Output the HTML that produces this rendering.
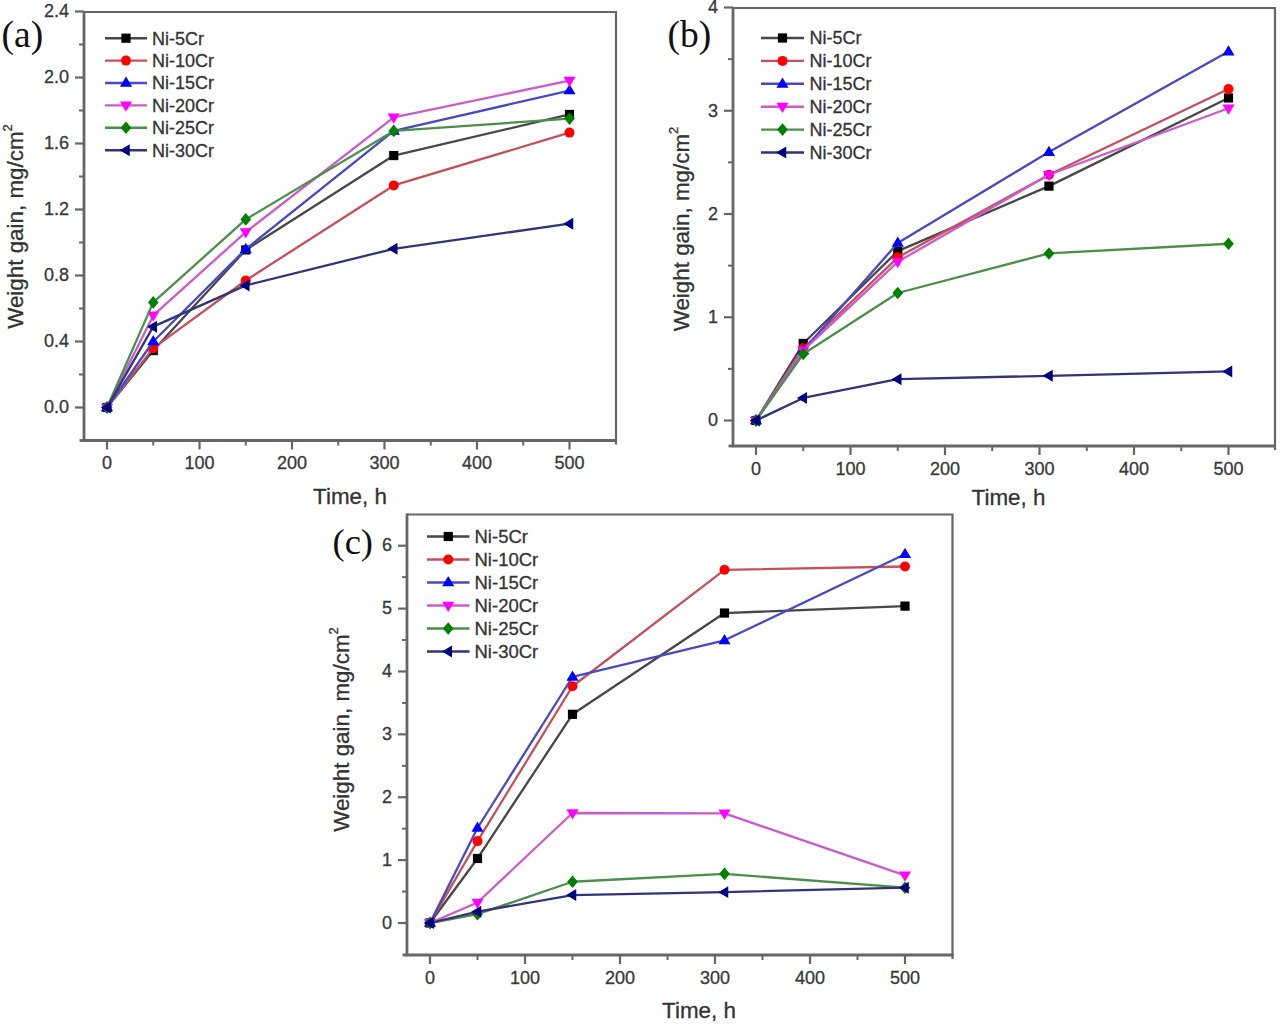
<!DOCTYPE html>
<html><head><meta charset="utf-8"><style>
html,body{margin:0;padding:0;background:#fff;}
body{width:1280px;height:1024px;overflow:hidden;}
svg{display:block;font-family:"Liberation Sans", sans-serif;} text{stroke:#333;stroke-width:0.3px;} text.lb{stroke:none}
</style></head><body>
<svg width="1280" height="1024" viewBox="0 0 1280 1024">
<rect width="1280" height="1024" fill="#fff"/>
<path d="M107.00,407.50 L153.25,350.57 L245.75,249.93 L393.75,155.55 L569.50,114.46" fill="none" stroke="#474747" stroke-width="2.3" stroke-linejoin="round"/>
<rect x="102.40" y="402.90" width="9.20" height="9.20" fill="#000000"/>
<rect x="148.65" y="345.97" width="9.20" height="9.20" fill="#000000"/>
<rect x="241.15" y="245.33" width="9.20" height="9.20" fill="#000000"/>
<rect x="389.15" y="150.95" width="9.20" height="9.20" fill="#000000"/>
<rect x="564.90" y="109.86" width="9.20" height="9.20" fill="#000000"/>
<path d="M107.00,407.50 L153.25,348.10 L245.75,280.45 L393.75,185.41 L569.50,132.61" fill="none" stroke="#c4505a" stroke-width="2.3" stroke-linejoin="round"/>
<circle cx="107.00" cy="407.50" r="5.00" fill="#ff0000"/>
<circle cx="153.25" cy="348.10" r="5.00" fill="#ff0000"/>
<circle cx="245.75" cy="280.45" r="5.00" fill="#ff0000"/>
<circle cx="393.75" cy="185.41" r="5.00" fill="#ff0000"/>
<circle cx="569.50" cy="132.61" r="5.00" fill="#ff0000"/>
<path d="M107.00,407.50 L153.25,341.50 L245.75,249.10 L393.75,130.96 L569.50,90.53" fill="none" stroke="#4848c4" stroke-width="2.3" stroke-linejoin="round"/>
<path d="M107.00,401.10 L113.08,411.34 L100.92,411.34Z" fill="#0000ff"/>
<path d="M153.25,335.10 L159.33,345.34 L147.17,345.34Z" fill="#0000ff"/>
<path d="M245.75,242.70 L251.83,252.94 L239.67,252.94Z" fill="#0000ff"/>
<path d="M393.75,124.56 L399.83,134.80 L387.67,134.80Z" fill="#0000ff"/>
<path d="M569.50,84.13 L575.58,94.37 L563.42,94.37Z" fill="#0000ff"/>
<path d="M107.00,407.50 L153.25,315.43 L245.75,232.11 L393.75,117.43 L569.50,80.63" fill="none" stroke="#cc5acc" stroke-width="2.3" stroke-linejoin="round"/>
<path d="M107.00,413.90 L113.08,403.66 L100.92,403.66Z" fill="#ff00ff"/>
<path d="M153.25,321.83 L159.33,311.59 L147.17,311.59Z" fill="#ff00ff"/>
<path d="M245.75,238.51 L251.83,228.27 L239.67,228.27Z" fill="#ff00ff"/>
<path d="M393.75,123.83 L399.83,113.59 L387.67,113.59Z" fill="#ff00ff"/>
<path d="M569.50,87.03 L575.58,76.79 L563.42,76.79Z" fill="#ff00ff"/>
<path d="M107.00,407.50 L153.25,302.39 L245.75,219.40 L393.75,130.96 L569.50,118.59" fill="none" stroke="#4a8f4a" stroke-width="2.3" stroke-linejoin="round"/>
<path d="M107.00,401.20 L112.36,407.50 L107.00,413.80 L101.64,407.50Z" fill="#008000"/>
<path d="M153.25,296.09 L158.60,302.39 L153.25,308.69 L147.90,302.39Z" fill="#008000"/>
<path d="M245.75,213.10 L251.10,219.40 L245.75,225.70 L240.40,219.40Z" fill="#008000"/>
<path d="M393.75,124.66 L399.11,130.96 L393.75,137.26 L388.39,130.96Z" fill="#008000"/>
<path d="M569.50,112.29 L574.86,118.59 L569.50,124.89 L564.14,118.59Z" fill="#008000"/>
<path d="M107.00,407.50 L153.25,326.65 L245.75,285.40 L393.75,248.77 L569.50,223.69" fill="none" stroke="#33337a" stroke-width="2.3" stroke-linejoin="round"/>
<path d="M100.70,407.50 L110.78,401.51 L110.78,413.49Z" fill="#000080"/>
<path d="M146.95,326.65 L157.03,320.66 L157.03,332.63Z" fill="#000080"/>
<path d="M239.45,285.40 L249.53,279.41 L249.53,291.38Z" fill="#000080"/>
<path d="M387.45,248.77 L397.53,242.79 L397.53,254.75Z" fill="#000080"/>
<path d="M563.20,223.69 L573.28,217.70 L573.28,229.67Z" fill="#000080"/>
<path d="M84,12 L616,12 L616,444.5" fill="none" stroke="#666666" stroke-width="2.2"/>
<path d="M84,11 L84,440.5 L617,440.5" fill="none" stroke="#666666" stroke-width="2.8"/><line x1="79.5" y1="440.5" x2="84" y2="440.5" stroke="#666666" stroke-width="2.8"/>
<line x1="75" y1="407.50" x2="84" y2="407.50" stroke="#666666" stroke-width="2.2"/>
<text x="69" y="413.25" text-anchor="end" font-size="18" fill="#3a3a3a">0.0</text>
<line x1="75" y1="341.50" x2="84" y2="341.50" stroke="#666666" stroke-width="2.2"/>
<text x="69" y="347.25" text-anchor="end" font-size="18" fill="#3a3a3a">0.4</text>
<line x1="75" y1="275.50" x2="84" y2="275.50" stroke="#666666" stroke-width="2.2"/>
<text x="69" y="281.25" text-anchor="end" font-size="18" fill="#3a3a3a">0.8</text>
<line x1="75" y1="209.50" x2="84" y2="209.50" stroke="#666666" stroke-width="2.2"/>
<text x="69" y="215.25" text-anchor="end" font-size="18" fill="#3a3a3a">1.2</text>
<line x1="75" y1="143.50" x2="84" y2="143.50" stroke="#666666" stroke-width="2.2"/>
<text x="69" y="149.25" text-anchor="end" font-size="18" fill="#3a3a3a">1.6</text>
<line x1="75" y1="77.50" x2="84" y2="77.50" stroke="#666666" stroke-width="2.2"/>
<text x="69" y="83.25" text-anchor="end" font-size="18" fill="#3a3a3a">2.0</text>
<line x1="75" y1="11.50" x2="84" y2="11.50" stroke="#666666" stroke-width="2.2"/>
<text x="69" y="17.25" text-anchor="end" font-size="18" fill="#3a3a3a">2.4</text>
<line x1="79" y1="374.50" x2="84" y2="374.50" stroke="#666666" stroke-width="2"/>
<line x1="79" y1="308.50" x2="84" y2="308.50" stroke="#666666" stroke-width="2"/>
<line x1="79" y1="242.50" x2="84" y2="242.50" stroke="#666666" stroke-width="2"/>
<line x1="79" y1="176.50" x2="84" y2="176.50" stroke="#666666" stroke-width="2"/>
<line x1="79" y1="110.50" x2="84" y2="110.50" stroke="#666666" stroke-width="2"/>
<line x1="79" y1="44.50" x2="84" y2="44.50" stroke="#666666" stroke-width="2"/>
<line x1="107.00" y1="440.5" x2="107.00" y2="449.5" stroke="#666666" stroke-width="2.2"/>
<text x="107.00" y="469.00" text-anchor="middle" font-size="18" fill="#3a3a3a">0</text>
<line x1="199.50" y1="440.5" x2="199.50" y2="449.5" stroke="#666666" stroke-width="2.2"/>
<text x="199.50" y="469.00" text-anchor="middle" font-size="18" fill="#3a3a3a">100</text>
<line x1="292.00" y1="440.5" x2="292.00" y2="449.5" stroke="#666666" stroke-width="2.2"/>
<text x="292.00" y="469.00" text-anchor="middle" font-size="18" fill="#3a3a3a">200</text>
<line x1="384.50" y1="440.5" x2="384.50" y2="449.5" stroke="#666666" stroke-width="2.2"/>
<text x="384.50" y="469.00" text-anchor="middle" font-size="18" fill="#3a3a3a">300</text>
<line x1="477.00" y1="440.5" x2="477.00" y2="449.5" stroke="#666666" stroke-width="2.2"/>
<text x="477.00" y="469.00" text-anchor="middle" font-size="18" fill="#3a3a3a">400</text>
<line x1="569.50" y1="440.5" x2="569.50" y2="449.5" stroke="#666666" stroke-width="2.2"/>
<text x="569.50" y="469.00" text-anchor="middle" font-size="18" fill="#3a3a3a">500</text>
<line x1="153.25" y1="440.5" x2="153.25" y2="445.5" stroke="#666666" stroke-width="2"/>
<line x1="245.75" y1="440.5" x2="245.75" y2="445.5" stroke="#666666" stroke-width="2"/>
<line x1="338.25" y1="440.5" x2="338.25" y2="445.5" stroke="#666666" stroke-width="2"/>
<line x1="430.75" y1="440.5" x2="430.75" y2="445.5" stroke="#666666" stroke-width="2"/>
<line x1="523.25" y1="440.5" x2="523.25" y2="445.5" stroke="#666666" stroke-width="2"/>
<text x="350" y="503.5" text-anchor="middle" font-size="22.4" fill="#333">Time, h</text>
<text transform="translate(22.7,226.5) rotate(-90)" text-anchor="middle" font-size="22.4" fill="#333">Weight gain, mg/cm<tspan dy="-11" font-size="13">2</tspan></text>
<line x1="105" y1="38.20" x2="147" y2="38.20" stroke="#474747" stroke-width="2.4"/>
<rect x="121.40" y="33.60" width="9.20" height="9.20" fill="#000000"/>
<text x="152" y="44.50" font-size="18" fill="#333">Ni-5Cr</text>
<line x1="105" y1="60.60" x2="147" y2="60.60" stroke="#c4505a" stroke-width="2.4"/>
<circle cx="126.00" cy="60.60" r="5.00" fill="#ff0000"/>
<text x="152" y="66.90" font-size="18" fill="#333">Ni-10Cr</text>
<line x1="105" y1="83.00" x2="147" y2="83.00" stroke="#4848c4" stroke-width="2.4"/>
<path d="M126.00,76.60 L132.08,86.84 L119.92,86.84Z" fill="#0000ff"/>
<text x="152" y="89.30" font-size="18" fill="#333">Ni-15Cr</text>
<line x1="105" y1="105.40" x2="147" y2="105.40" stroke="#cc5acc" stroke-width="2.4"/>
<path d="M126.00,111.80 L132.08,101.56 L119.92,101.56Z" fill="#ff00ff"/>
<text x="152" y="111.70" font-size="18" fill="#333">Ni-20Cr</text>
<line x1="105" y1="127.80" x2="147" y2="127.80" stroke="#4a8f4a" stroke-width="2.4"/>
<path d="M126.00,121.50 L131.35,127.80 L126.00,134.10 L120.64,127.80Z" fill="#008000"/>
<text x="152" y="134.10" font-size="18" fill="#333">Ni-25Cr</text>
<line x1="105" y1="150.20" x2="147" y2="150.20" stroke="#33337a" stroke-width="2.4"/>
<path d="M119.70,150.20 L129.78,144.21 L129.78,156.19Z" fill="#000080"/>
<text x="152" y="156.50" font-size="18" fill="#333">Ni-30Cr</text>
<text class="lb" x="1.5" y="46.5" font-family="&quot;Liberation Serif&quot;, serif" font-size="37.5" fill="#111">(a)</text>
<path d="M756.00,420.50 L803.25,343.48 L897.75,251.17 L1048.95,186.12 L1228.50,97.95" fill="none" stroke="#474747" stroke-width="2.3" stroke-linejoin="round"/>
<rect x="751.40" y="415.90" width="9.20" height="9.20" fill="#000000"/>
<rect x="798.65" y="338.88" width="9.20" height="9.20" fill="#000000"/>
<rect x="893.15" y="246.57" width="9.20" height="9.20" fill="#000000"/>
<rect x="1044.35" y="181.52" width="9.20" height="9.20" fill="#000000"/>
<rect x="1223.90" y="93.35" width="9.20" height="9.20" fill="#000000"/>
<path d="M756.00,420.50 L803.25,348.23 L897.75,257.37 L1048.95,174.77 L1228.50,89.07" fill="none" stroke="#c4505a" stroke-width="2.3" stroke-linejoin="round"/>
<circle cx="756.00" cy="420.50" r="5.00" fill="#ff0000"/>
<circle cx="803.25" cy="348.23" r="5.00" fill="#ff0000"/>
<circle cx="897.75" cy="257.37" r="5.00" fill="#ff0000"/>
<circle cx="1048.95" cy="174.77" r="5.00" fill="#ff0000"/>
<circle cx="1228.50" cy="89.07" r="5.00" fill="#ff0000"/>
<path d="M756.00,420.50 L803.25,350.29 L897.75,243.01 L1048.95,152.05 L1228.50,51.59" fill="none" stroke="#4848c4" stroke-width="2.3" stroke-linejoin="round"/>
<path d="M756.00,414.10 L762.08,424.34 L749.92,424.34Z" fill="#0000ff"/>
<path d="M803.25,343.89 L809.33,354.13 L797.17,354.13Z" fill="#0000ff"/>
<path d="M897.75,236.61 L903.83,246.85 L891.67,246.85Z" fill="#0000ff"/>
<path d="M1048.95,145.65 L1055.03,155.89 L1042.87,155.89Z" fill="#0000ff"/>
<path d="M1228.50,45.19 L1234.58,55.43 L1222.42,55.43Z" fill="#0000ff"/>
<path d="M756.00,420.50 L803.25,350.29 L897.75,261.80 L1048.95,174.77 L1228.50,108.27" fill="none" stroke="#cc5acc" stroke-width="2.3" stroke-linejoin="round"/>
<path d="M756.00,426.90 L762.08,416.66 L749.92,416.66Z" fill="#ff00ff"/>
<path d="M803.25,356.69 L809.33,346.45 L797.17,346.45Z" fill="#ff00ff"/>
<path d="M897.75,268.20 L903.83,257.96 L891.67,257.96Z" fill="#ff00ff"/>
<path d="M1048.95,181.17 L1055.03,170.93 L1042.87,170.93Z" fill="#ff00ff"/>
<path d="M1228.50,114.67 L1234.58,104.43 L1222.42,104.43Z" fill="#ff00ff"/>
<path d="M756.00,420.50 L803.25,354.01 L897.75,292.99 L1048.95,253.44 L1228.50,243.74" fill="none" stroke="#4a8f4a" stroke-width="2.3" stroke-linejoin="round"/>
<path d="M756.00,414.20 L761.36,420.50 L756.00,426.80 L750.64,420.50Z" fill="#008000"/>
<path d="M803.25,347.71 L808.61,354.01 L803.25,360.31 L797.89,354.01Z" fill="#008000"/>
<path d="M897.75,286.69 L903.11,292.99 L897.75,299.29 L892.39,292.99Z" fill="#008000"/>
<path d="M1048.95,247.14 L1054.31,253.44 L1048.95,259.74 L1043.60,253.44Z" fill="#008000"/>
<path d="M1228.50,237.44 L1233.86,243.74 L1228.50,250.04 L1223.14,243.74Z" fill="#008000"/>
<path d="M756.00,420.50 L803.25,397.99 L897.75,379.20 L1048.95,375.79 L1228.50,371.46" fill="none" stroke="#33337a" stroke-width="2.3" stroke-linejoin="round"/>
<path d="M749.70,420.50 L759.78,414.51 L759.78,426.49Z" fill="#000080"/>
<path d="M796.95,397.99 L807.03,392.01 L807.03,403.98Z" fill="#000080"/>
<path d="M891.45,379.20 L901.53,373.21 L901.53,385.19Z" fill="#000080"/>
<path d="M1042.65,375.79 L1052.73,369.81 L1052.73,381.78Z" fill="#000080"/>
<path d="M1222.20,371.46 L1232.28,365.47 L1232.28,377.44Z" fill="#000080"/>
<path d="M733,8 L1275,8 L1275,450" fill="none" stroke="#666666" stroke-width="2.2"/>
<path d="M733,7 L733,446 L1276,446" fill="none" stroke="#666666" stroke-width="2.8"/><line x1="728.5" y1="446" x2="733" y2="446" stroke="#666666" stroke-width="2.8"/>
<line x1="724" y1="420.50" x2="733" y2="420.50" stroke="#666666" stroke-width="2.2"/>
<text x="718" y="426.25" text-anchor="end" font-size="18" fill="#3a3a3a">0</text>
<line x1="724" y1="317.25" x2="733" y2="317.25" stroke="#666666" stroke-width="2.2"/>
<text x="718" y="323.00" text-anchor="end" font-size="18" fill="#3a3a3a">1</text>
<line x1="724" y1="214.00" x2="733" y2="214.00" stroke="#666666" stroke-width="2.2"/>
<text x="718" y="219.75" text-anchor="end" font-size="18" fill="#3a3a3a">2</text>
<line x1="724" y1="110.75" x2="733" y2="110.75" stroke="#666666" stroke-width="2.2"/>
<text x="718" y="116.50" text-anchor="end" font-size="18" fill="#3a3a3a">3</text>
<line x1="724" y1="7.50" x2="733" y2="7.50" stroke="#666666" stroke-width="2.2"/>
<text x="718" y="13.25" text-anchor="end" font-size="18" fill="#3a3a3a">4</text>
<line x1="728" y1="368.88" x2="733" y2="368.88" stroke="#666666" stroke-width="2"/>
<line x1="728" y1="265.62" x2="733" y2="265.62" stroke="#666666" stroke-width="2"/>
<line x1="728" y1="162.38" x2="733" y2="162.38" stroke="#666666" stroke-width="2"/>
<line x1="728" y1="59.12" x2="733" y2="59.12" stroke="#666666" stroke-width="2"/>
<line x1="756.00" y1="446" x2="756.00" y2="455" stroke="#666666" stroke-width="2.2"/>
<text x="756.00" y="474.50" text-anchor="middle" font-size="18" fill="#3a3a3a">0</text>
<line x1="850.50" y1="446" x2="850.50" y2="455" stroke="#666666" stroke-width="2.2"/>
<text x="850.50" y="474.50" text-anchor="middle" font-size="18" fill="#3a3a3a">100</text>
<line x1="945.00" y1="446" x2="945.00" y2="455" stroke="#666666" stroke-width="2.2"/>
<text x="945.00" y="474.50" text-anchor="middle" font-size="18" fill="#3a3a3a">200</text>
<line x1="1039.50" y1="446" x2="1039.50" y2="455" stroke="#666666" stroke-width="2.2"/>
<text x="1039.50" y="474.50" text-anchor="middle" font-size="18" fill="#3a3a3a">300</text>
<line x1="1134.00" y1="446" x2="1134.00" y2="455" stroke="#666666" stroke-width="2.2"/>
<text x="1134.00" y="474.50" text-anchor="middle" font-size="18" fill="#3a3a3a">400</text>
<line x1="1228.50" y1="446" x2="1228.50" y2="455" stroke="#666666" stroke-width="2.2"/>
<text x="1228.50" y="474.50" text-anchor="middle" font-size="18" fill="#3a3a3a">500</text>
<line x1="803.25" y1="446" x2="803.25" y2="451" stroke="#666666" stroke-width="2"/>
<line x1="897.75" y1="446" x2="897.75" y2="451" stroke="#666666" stroke-width="2"/>
<line x1="992.25" y1="446" x2="992.25" y2="451" stroke="#666666" stroke-width="2"/>
<line x1="1086.75" y1="446" x2="1086.75" y2="451" stroke="#666666" stroke-width="2"/>
<line x1="1181.25" y1="446" x2="1181.25" y2="451" stroke="#666666" stroke-width="2"/>
<text x="1008.5" y="504.7" text-anchor="middle" font-size="22.4" fill="#333">Time, h</text>
<text transform="translate(689.4,229) rotate(-90)" text-anchor="middle" font-size="22.4" fill="#333">Weight gain, mg/cm<tspan dy="-11" font-size="13">2</tspan></text>
<line x1="761" y1="38.00" x2="804" y2="38.00" stroke="#474747" stroke-width="2.4"/>
<rect x="777.90" y="33.40" width="9.20" height="9.20" fill="#000000"/>
<text x="809.5" y="44.30" font-size="18" fill="#333">Ni-5Cr</text>
<line x1="761" y1="60.90" x2="804" y2="60.90" stroke="#c4505a" stroke-width="2.4"/>
<circle cx="782.50" cy="60.90" r="5.00" fill="#ff0000"/>
<text x="809.5" y="67.20" font-size="18" fill="#333">Ni-10Cr</text>
<line x1="761" y1="83.80" x2="804" y2="83.80" stroke="#4848c4" stroke-width="2.4"/>
<path d="M782.50,77.40 L788.58,87.64 L776.42,87.64Z" fill="#0000ff"/>
<text x="809.5" y="90.10" font-size="18" fill="#333">Ni-15Cr</text>
<line x1="761" y1="106.70" x2="804" y2="106.70" stroke="#cc5acc" stroke-width="2.4"/>
<path d="M782.50,113.10 L788.58,102.86 L776.42,102.86Z" fill="#ff00ff"/>
<text x="809.5" y="113.00" font-size="18" fill="#333">Ni-20Cr</text>
<line x1="761" y1="129.60" x2="804" y2="129.60" stroke="#4a8f4a" stroke-width="2.4"/>
<path d="M782.50,123.30 L787.86,129.60 L782.50,135.90 L777.14,129.60Z" fill="#008000"/>
<text x="809.5" y="135.90" font-size="18" fill="#333">Ni-25Cr</text>
<line x1="761" y1="152.50" x2="804" y2="152.50" stroke="#33337a" stroke-width="2.4"/>
<path d="M776.20,152.50 L786.28,146.51 L786.28,158.49Z" fill="#000080"/>
<text x="809.5" y="158.80" font-size="18" fill="#333">Ni-30Cr</text>
<text class="lb" x="667.5" y="46.5" font-family="&quot;Liberation Serif&quot;, serif" font-size="37.5" fill="#111">(b)</text>
<path d="M430.00,923.00 L477.50,858.49 L572.50,714.28 L724.50,613.04 L905.00,606.11" fill="none" stroke="#474747" stroke-width="2.3" stroke-linejoin="round"/>
<rect x="425.40" y="918.40" width="9.20" height="9.20" fill="#000000"/>
<rect x="472.90" y="853.89" width="9.20" height="9.20" fill="#000000"/>
<rect x="567.90" y="709.68" width="9.20" height="9.20" fill="#000000"/>
<rect x="719.90" y="608.44" width="9.20" height="9.20" fill="#000000"/>
<rect x="900.40" y="601.51" width="9.20" height="9.20" fill="#000000"/>
<path d="M430.00,923.00 L477.50,841.10 L572.50,686.25 L724.50,569.82 L905.00,566.48" fill="none" stroke="#c4505a" stroke-width="2.3" stroke-linejoin="round"/>
<circle cx="430.00" cy="923.00" r="5.00" fill="#ff0000"/>
<circle cx="477.50" cy="841.10" r="5.00" fill="#ff0000"/>
<circle cx="572.50" cy="686.25" r="5.00" fill="#ff0000"/>
<circle cx="724.50" cy="569.82" r="5.00" fill="#ff0000"/>
<circle cx="905.00" cy="566.48" r="5.00" fill="#ff0000"/>
<path d="M430.00,923.00 L477.50,828.00 L572.50,676.99 L724.50,640.32 L905.00,554.20" fill="none" stroke="#4848c4" stroke-width="2.3" stroke-linejoin="round"/>
<path d="M430.00,916.60 L436.08,926.84 L423.92,926.84Z" fill="#0000ff"/>
<path d="M477.50,821.60 L483.58,831.84 L471.42,831.84Z" fill="#0000ff"/>
<path d="M572.50,670.59 L578.58,680.83 L566.42,680.83Z" fill="#0000ff"/>
<path d="M724.50,633.92 L730.58,644.16 L718.42,644.16Z" fill="#0000ff"/>
<path d="M905.00,547.80 L911.08,558.04 L898.92,558.04Z" fill="#0000ff"/>
<path d="M430.00,923.00 L477.50,902.52 L572.50,813.00 L724.50,813.38 L905.00,875.31" fill="none" stroke="#cc5acc" stroke-width="2.3" stroke-linejoin="round"/>
<path d="M430.00,929.40 L436.08,919.16 L423.92,919.16Z" fill="#ff00ff"/>
<path d="M477.50,908.92 L483.58,898.68 L471.42,898.68Z" fill="#ff00ff"/>
<path d="M572.50,819.40 L578.58,809.16 L566.42,809.16Z" fill="#ff00ff"/>
<path d="M724.50,819.78 L730.58,809.54 L718.42,809.54Z" fill="#ff00ff"/>
<path d="M905.00,881.71 L911.08,871.47 L898.92,871.47Z" fill="#ff00ff"/>
<path d="M430.00,923.00 L477.50,914.18 L572.50,881.74 L724.50,873.86 L905.00,887.72" fill="none" stroke="#4a8f4a" stroke-width="2.3" stroke-linejoin="round"/>
<path d="M430.00,916.70 L435.36,923.00 L430.00,929.30 L424.64,923.00Z" fill="#008000"/>
<path d="M477.50,907.88 L482.86,914.18 L477.50,920.48 L472.14,914.18Z" fill="#008000"/>
<path d="M572.50,875.44 L577.86,881.74 L572.50,888.03 L567.14,881.74Z" fill="#008000"/>
<path d="M724.50,867.56 L729.86,873.86 L724.50,880.16 L719.14,873.86Z" fill="#008000"/>
<path d="M905.00,881.42 L910.36,887.72 L905.00,894.02 L899.64,887.72Z" fill="#008000"/>
<path d="M430.00,923.00 L477.50,911.66 L572.50,895.03 L724.50,892.13 L905.00,887.72" fill="none" stroke="#33337a" stroke-width="2.3" stroke-linejoin="round"/>
<path d="M423.70,923.00 L433.78,917.01 L433.78,928.99Z" fill="#000080"/>
<path d="M471.20,911.66 L481.28,905.67 L481.28,917.64Z" fill="#000080"/>
<path d="M566.20,895.03 L576.28,889.04 L576.28,901.01Z" fill="#000080"/>
<path d="M718.20,892.13 L728.28,886.14 L728.28,898.12Z" fill="#000080"/>
<path d="M898.70,887.72 L908.78,881.74 L908.78,893.71Z" fill="#000080"/>
<path d="M407,514.5 L952.5,514.5 L952.5,959" fill="none" stroke="#666666" stroke-width="2.2"/>
<path d="M407,513.5 L407,955 L953.5,955" fill="none" stroke="#666666" stroke-width="2.8"/><line x1="402.5" y1="955" x2="407" y2="955" stroke="#666666" stroke-width="2.8"/>
<line x1="398" y1="923.00" x2="407" y2="923.00" stroke="#666666" stroke-width="2.2"/>
<text x="392" y="928.75" text-anchor="end" font-size="18" fill="#3a3a3a">0</text>
<line x1="398" y1="860.12" x2="407" y2="860.12" stroke="#666666" stroke-width="2.2"/>
<text x="392" y="865.87" text-anchor="end" font-size="18" fill="#3a3a3a">1</text>
<line x1="398" y1="797.24" x2="407" y2="797.24" stroke="#666666" stroke-width="2.2"/>
<text x="392" y="802.99" text-anchor="end" font-size="18" fill="#3a3a3a">2</text>
<line x1="398" y1="734.36" x2="407" y2="734.36" stroke="#666666" stroke-width="2.2"/>
<text x="392" y="740.11" text-anchor="end" font-size="18" fill="#3a3a3a">3</text>
<line x1="398" y1="671.48" x2="407" y2="671.48" stroke="#666666" stroke-width="2.2"/>
<text x="392" y="677.23" text-anchor="end" font-size="18" fill="#3a3a3a">4</text>
<line x1="398" y1="608.60" x2="407" y2="608.60" stroke="#666666" stroke-width="2.2"/>
<text x="392" y="614.35" text-anchor="end" font-size="18" fill="#3a3a3a">5</text>
<line x1="398" y1="545.72" x2="407" y2="545.72" stroke="#666666" stroke-width="2.2"/>
<text x="392" y="551.47" text-anchor="end" font-size="18" fill="#3a3a3a">6</text>
<line x1="402" y1="891.56" x2="407" y2="891.56" stroke="#666666" stroke-width="2"/>
<line x1="402" y1="828.68" x2="407" y2="828.68" stroke="#666666" stroke-width="2"/>
<line x1="402" y1="765.80" x2="407" y2="765.80" stroke="#666666" stroke-width="2"/>
<line x1="402" y1="702.92" x2="407" y2="702.92" stroke="#666666" stroke-width="2"/>
<line x1="402" y1="640.04" x2="407" y2="640.04" stroke="#666666" stroke-width="2"/>
<line x1="402" y1="577.16" x2="407" y2="577.16" stroke="#666666" stroke-width="2"/>
<line x1="430.00" y1="955" x2="430.00" y2="964" stroke="#666666" stroke-width="2.2"/>
<text x="430.00" y="983.50" text-anchor="middle" font-size="18" fill="#3a3a3a">0</text>
<line x1="525.00" y1="955" x2="525.00" y2="964" stroke="#666666" stroke-width="2.2"/>
<text x="525.00" y="983.50" text-anchor="middle" font-size="18" fill="#3a3a3a">100</text>
<line x1="620.00" y1="955" x2="620.00" y2="964" stroke="#666666" stroke-width="2.2"/>
<text x="620.00" y="983.50" text-anchor="middle" font-size="18" fill="#3a3a3a">200</text>
<line x1="715.00" y1="955" x2="715.00" y2="964" stroke="#666666" stroke-width="2.2"/>
<text x="715.00" y="983.50" text-anchor="middle" font-size="18" fill="#3a3a3a">300</text>
<line x1="810.00" y1="955" x2="810.00" y2="964" stroke="#666666" stroke-width="2.2"/>
<text x="810.00" y="983.50" text-anchor="middle" font-size="18" fill="#3a3a3a">400</text>
<line x1="905.00" y1="955" x2="905.00" y2="964" stroke="#666666" stroke-width="2.2"/>
<text x="905.00" y="983.50" text-anchor="middle" font-size="18" fill="#3a3a3a">500</text>
<line x1="477.50" y1="955" x2="477.50" y2="960" stroke="#666666" stroke-width="2"/>
<line x1="572.50" y1="955" x2="572.50" y2="960" stroke="#666666" stroke-width="2"/>
<line x1="667.50" y1="955" x2="667.50" y2="960" stroke="#666666" stroke-width="2"/>
<line x1="762.50" y1="955" x2="762.50" y2="960" stroke="#666666" stroke-width="2"/>
<line x1="857.50" y1="955" x2="857.50" y2="960" stroke="#666666" stroke-width="2"/>
<text x="699" y="1018" text-anchor="middle" font-size="22.4" fill="#333">Time, h</text>
<text transform="translate(349.2,729.5) rotate(-90)" text-anchor="middle" font-size="22.4" fill="#333">Weight gain, mg/cm<tspan dy="-11" font-size="13">2</tspan></text>
<line x1="427" y1="536.50" x2="469.5" y2="536.50" stroke="#474747" stroke-width="2.4"/>
<rect x="443.65" y="531.90" width="9.20" height="9.20" fill="#000000"/>
<text x="474.5" y="542.80" font-size="18.5" fill="#333">Ni-5Cr</text>
<line x1="427" y1="559.50" x2="469.5" y2="559.50" stroke="#c4505a" stroke-width="2.4"/>
<circle cx="448.25" cy="559.50" r="5.00" fill="#ff0000"/>
<text x="474.5" y="565.80" font-size="18.5" fill="#333">Ni-10Cr</text>
<line x1="427" y1="582.50" x2="469.5" y2="582.50" stroke="#4848c4" stroke-width="2.4"/>
<path d="M448.25,576.10 L454.33,586.34 L442.17,586.34Z" fill="#0000ff"/>
<text x="474.5" y="588.80" font-size="18.5" fill="#333">Ni-15Cr</text>
<line x1="427" y1="605.50" x2="469.5" y2="605.50" stroke="#cc5acc" stroke-width="2.4"/>
<path d="M448.25,611.90 L454.33,601.66 L442.17,601.66Z" fill="#ff00ff"/>
<text x="474.5" y="611.80" font-size="18.5" fill="#333">Ni-20Cr</text>
<line x1="427" y1="628.50" x2="469.5" y2="628.50" stroke="#4a8f4a" stroke-width="2.4"/>
<path d="M448.25,622.20 L453.61,628.50 L448.25,634.80 L442.89,628.50Z" fill="#008000"/>
<text x="474.5" y="634.80" font-size="18.5" fill="#333">Ni-25Cr</text>
<line x1="427" y1="651.50" x2="469.5" y2="651.50" stroke="#33337a" stroke-width="2.4"/>
<path d="M441.95,651.50 L452.03,645.51 L452.03,657.49Z" fill="#000080"/>
<text x="474.5" y="657.80" font-size="18.5" fill="#333">Ni-30Cr</text>
<text class="lb" x="332.5" y="553.5" font-family="&quot;Liberation Serif&quot;, serif" font-size="36.5" fill="#111">(c)</text>
</svg>
</body></html>
